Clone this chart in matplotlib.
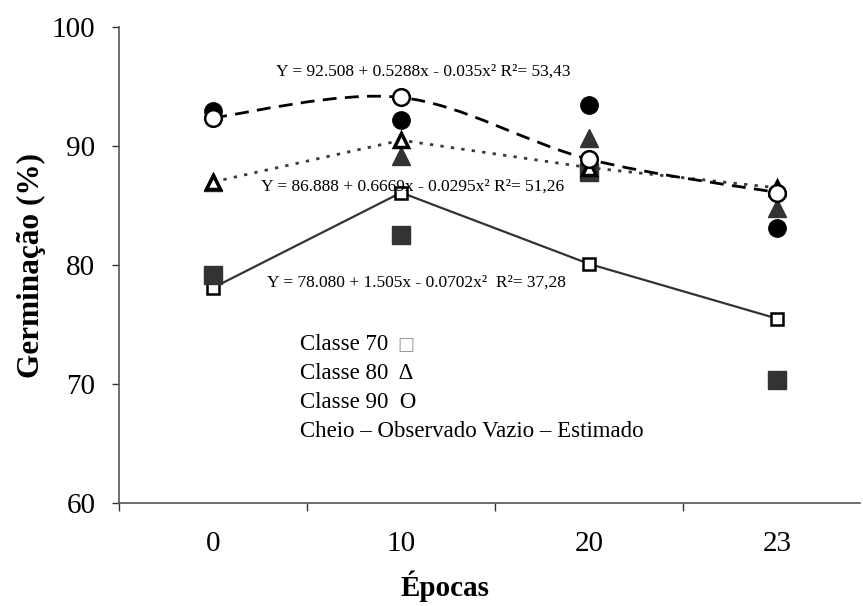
import matplotlib
matplotlib.use("Agg")
import matplotlib.pyplot as plt
from matplotlib.path import Path
from matplotlib.patches import PathPatch
import numpy as np

plt.rcParams['font.family'] = ['Liberation Serif', 'DejaVu Serif']

epocas = ["0", "10", "20", "23"]
# Observed (filled) and estimated (hollow) germination values
obs70 = [79.2, 82.5, 87.8, 70.3]
est70 = [78.1, 86.1, 80.1, 75.5]
obs80 = [87.0, 89.2, 90.7, 84.8]
est80 = [87.0, 90.5, 88.2, 86.5]
obs90 = [93.0, 92.2, 93.5, 83.1]
est90 = [92.4, 94.1, 88.9, 86.1]

eq90 = "Y = 92.508 + 0.5288x - 0.035x² R²= 53,43"
eq80 = "Y = 86.888 + 0.6669x - 0.0295x² R²= 51,26"
eq70 = "Y = 78.080 + 1.505x - 0.0702x²  R²= 37,28"
legend_lines = ["Classe 70", "Classe 80  Δ", "Classe 90  O",
                "Cheio – Observado Vazio – Estimado"]

x = np.arange(len(epocas))

fig = plt.figure(figsize=(8.63, 6.06), dpi=100)
ax = fig.add_axes([0.138, 0.170, 0.8585, 0.785])

dark = '#333333'

# class 70 estimated: straight line
ax.plot(x, est70, color=dark, lw=1.6, zorder=2)
# class 80 estimated: dotted
ax.plot(x, est80, color='#3a3a3a', lw=2.0, linestyle=(0, (1.2, 2.6)), zorder=2)

# class 90 estimated: smoothed curve (Catmull-Rom -> Bezier)
pts = np.column_stack([x, est90]).astype(float)
verts = [tuple(pts[0])]
codes = [Path.MOVETO]
n = len(pts)
for i in range(n - 1):
    p0 = pts[i - 1] if i > 0 else pts[i]
    p1 = pts[i]
    p2 = pts[i + 1]
    p3 = pts[i + 2] if i + 2 < n else pts[i + 1]
    c1 = p1 + (p2 - p0) / 6.0
    c2 = p2 - (p3 - p1) / 6.0
    verts += [tuple(c1), tuple(c2), tuple(p2)]
    codes += [Path.CURVE4] * 3
ax.add_patch(PathPatch(Path(verts, codes), fill=False, edgecolor='black',
                       lw=2.0, linestyle=(0, (5, 3)), zorder=2))

# markers
ax.plot(x, est70, 's', ms=9, mfc='white', mec='black', mew=1.8, ls='none', zorder=3)
ax.plot(x, obs70, 's', ms=12.5, mfc=dark, mec=dark, ls='none', zorder=4)
ax.plot(x, obs80, '^', ms=13, mfc=dark, mec=dark, ls='none', zorder=5)
ax.plot(x, est80, '^', ms=10, mfc='white', mec='black', mew=2.5, ls='none', zorder=6)
ax.plot(x, obs90, 'o', ms=12.5, mfc='black', mec='black', ls='none', zorder=7)
ax.plot(x, est90, 'o', ms=12, mfc='white', mec='black', mew=1.8, ls='none', zorder=8)

ax.set_ylim(60, 100)
ax.set_xlim(-0.5, 3.44)
ax.set_yticks([60, 70, 80, 90, 100])
ax.set_xticks(x)
ax.set_xticklabels(epocas)
ax.set_xticks([-0.5, 0.5, 1.5, 2.5], minor=True)
ax.tick_params(axis='x', which='major', length=0, pad=20, labelsize=21)
ax.tick_params(axis='x', which='minor', length=6, width=1, direction='out', color='#333333')
ax.tick_params(axis='y', length=5, width=1, direction='out', labelsize=21, pad=12, color='#333333')

for s in ['top', 'right']:
    ax.spines[s].set_visible(False)
for s in ['left', 'bottom']:
    ax.spines[s].set_color('#555555')
    ax.spines[s].set_linewidth(1.2)

ax.set_ylabel("Germinação (%)", fontsize=22.5, fontweight='bold')
ax.yaxis.set_label_coords(-0.098, 0.5)
ax.set_xlabel("Épocas", fontsize=21, fontweight='bold')
ax.xaxis.set_label_coords(0.44, -0.142)

ax.text(1.12, 96.3, eq90, ha='center', va='center', fontsize=12.5)
ax.text(1.06, 86.6, eq80, ha='center', va='center', fontsize=12.5)
ax.text(1.08, 78.5, eq70, ha='center', va='center', fontsize=12.5)

ly0 = 73.3
step = 2.44
first = None
for i, t in enumerate(legend_lines):
    tt = ax.text(0.46, ly0 - i * step, t, ha='left', va='center', fontsize=16.5)
    if i == 0:
        first = tt
ax.annotate("□", xy=(1.0, 0.5), xycoords=first, xytext=(7, 0),
            textcoords='offset points', ha='left', va='center', fontsize=13,
            color='#999999', family=['DejaVu Sans'])

fig.savefig("out.png", dpi=100)
